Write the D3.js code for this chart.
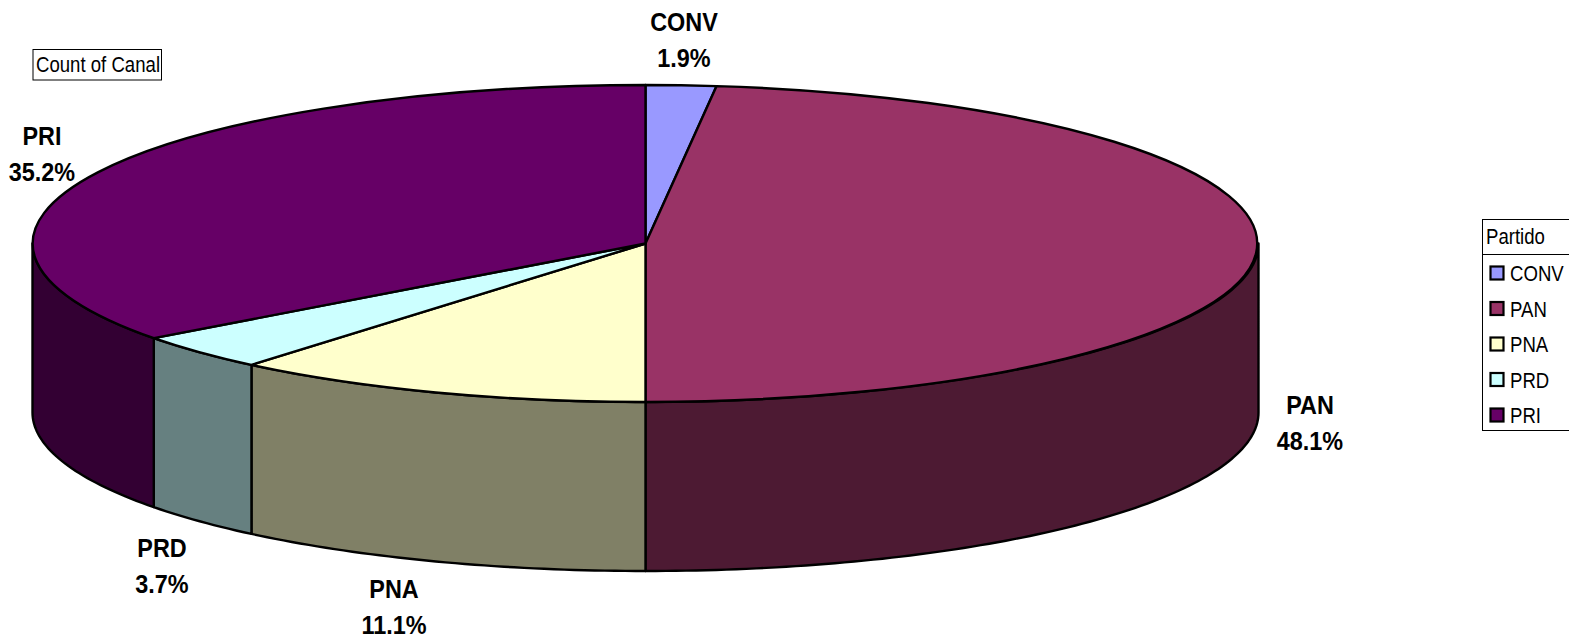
<!DOCTYPE html>
<html><head><meta charset="utf-8">
<script src="https://cdn.jsdelivr.net/npm/d3@7/dist/d3.min.js"></script>
<style>html,body{margin:0;background:#fff;overflow:hidden}text{font-family:"Liberation Sans",Arial,sans-serif;fill:#000}</style>
</head><body><svg id="c" width="1569" height="639"></svg>
<script>
const categories = ["CONV","PAN","PNA","PRD","PRI"];
const counts = [1,26,6,2,19];
const percentLabels = ["1.9%","48.1%","11.1%","3.7%","35.2%"];
const topColors = ["#9999FF","#993366","#FFFFCC","#CCFFFF","#660066"];
const sideColors = ["#4d4d80","#4D1A33","#808066","#668080","#330033"];
const title = "Count of Canal", legendTitle = "Partido";
const labelAnchors = [[684,31],[1310,414],[394,598],[162,557],[42,145]];

const W=1569,H=639,cx=645.5,cy=243.5,rx=613,ry=158.5,depth=169;
const svg=d3.select("#c");
const arcs=d3.pie().sort(null).value(d=>d)(counts);
const px=a=>cx+rx*Math.sin(a), py=a=>cy-ry*Math.cos(a);
const lw=2.4;

// front wall
const hp=Math.PI/2, tp=3*Math.PI/2;
arcs.forEach((d,i)=>{
  const a0=Math.max(d.startAngle,hp), a1=Math.min(d.endAngle,tp);
  if(a1<=a0) return;
  const p=d3.path();
  p.moveTo(px(a0),py(a0));
  p.lineTo(px(a0),py(a0)+depth);
  ellipseTo(p,a0,a1,depth);
  p.lineTo(px(a1),py(a1));
  ellipseTo(p,a1,a0,0);
  p.closePath();
  svg.append("path").attr("d",p.toString()).attr("fill",sideColors[i]).attr("stroke","#000").attr("stroke-width",lw).attr("stroke-linejoin","round");
});
function ellipseTo(p,a,b,dy){
  const n=Math.max(8,Math.ceil(Math.abs(b-a)*60));
  for(let k=1;k<=n;k++){const t=a+(b-a)*k/n;p.lineTo(px(t),py(t)+dy);}
}
// top faces
const arc=d3.arc().innerRadius(0).outerRadius(1);
svg.append("g").attr("transform",`translate(${cx},${cy}) scale(${rx},${ry})`)
  .selectAll("path").data(arcs).join("path")
  .attr("d",arc).attr("fill",(d,i)=>topColors[i])
  .attr("stroke","#000").attr("stroke-width",lw).attr("vector-effect","non-scaling-stroke").attr("stroke-linejoin","round");

// condensed text helper
function label(x,y,s,size,weight,anchor,sx){
  svg.append("text").attr("transform",`translate(${x},${y}) scale(${sx},1)`)
    .attr("text-anchor",anchor).attr("font-size",size).attr("font-weight",weight).text(s);
}
categories.forEach((c,i)=>{
  const [x,y]=labelAnchors[i];
  label(x,y,c,26,"bold","middle",0.9);
  label(x,y+35.5,percentLabels[i],26,"bold","middle",0.9);
});
// title box
svg.append("rect").attr("x",33).attr("y",49.5).attr("width",128.5).attr("height",30.5).attr("fill","#fff").attr("stroke","#000");
label(36,72,title,21.5,"normal","start",0.865);
// legend
svg.append("rect").attr("x",1482.5).attr("y",219.5).attr("width",90).attr("height",211).attr("fill","#fff").attr("stroke","#000");
svg.append("line").attr("x1",1482).attr("x2",1569).attr("y1",254.5).attr("y2",254.5).attr("stroke","#000");
label(1486,244,legendTitle,21.5,"normal","start",0.865);
const ly=d3.scalePoint().domain(categories).range([273,415]);
categories.forEach((c,i)=>{
  const y=ly(c);
  svg.append("rect").attr("x",1490.5).attr("y",y-6.5).attr("width",13).attr("height",13).attr("fill",topColors[i]).attr("stroke","#000").attr("stroke-width",2.2);
  label(1510,y+8,c,21.5,"normal","start",0.865);
});
</script></body></html>
